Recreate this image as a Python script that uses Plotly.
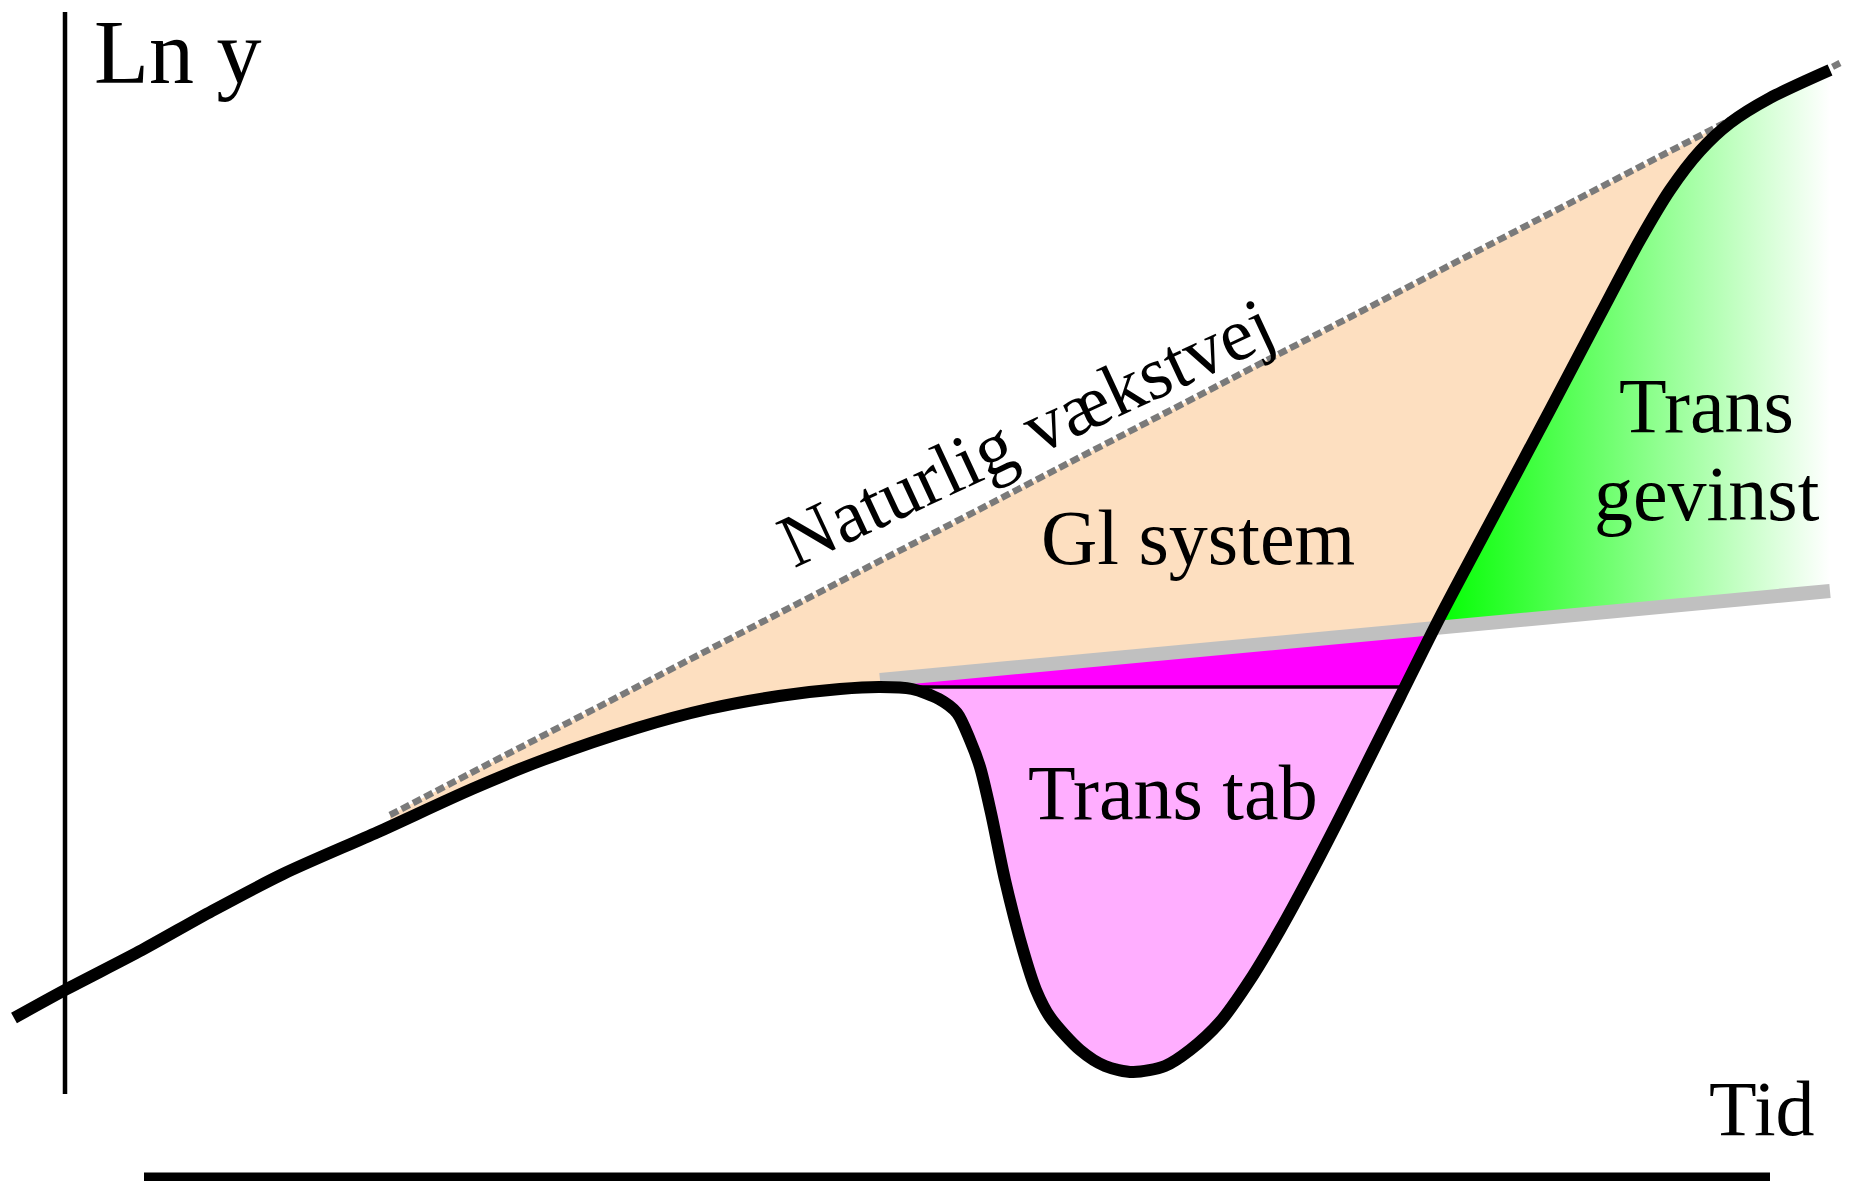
import numpy as np
import plotly.graph_objects as go

# ---- data (time on x, Ln y on y) ----
# actual growth path
tid = [14, 65, 142, 212, 283, 378, 472, 543, 637, 708, 779, 840, 880, 912, 939,
       957, 970, 980, 991, 1005, 1023, 1036, 1050, 1080, 1105, 1133, 1165, 1190,
       1220, 1250, 1280, 1310, 1340, 1370, 1400, 1440, 1500, 1550, 1600, 1640,
       1670, 1700, 1730, 1770, 1830]
ln_y = [163, 191, 231, 270, 307, 349, 392, 421, 453, 472, 485, 492, 494, 492, 482,
        468, 441, 414, 368, 301, 231, 191, 164, 131, 115, 109, 115, 131,
        159, 201, 251, 306, 364, 424, 484, 564, 677, 771, 866, 941,
        991, 1030, 1058, 1083, 1111]
# natural growth path (dashed)
tid_nat = [390, 1840]
ln_nat = [366, 1118]
# old system trend (grey)
tid_old = [880, 1830]
ln_old = [501, 590]

# ---- geometry helpers ----
x = np.array(tid, float)
y = np.array(ln_y, float)


def straight(xs, ys):
    k = (ys[1] - ys[0]) / (xs[1] - xs[0])
    return lambda q: ys[0] + (np.asarray(q, float) - xs[0]) * k


nat = straight(tid_nat, ln_nat)
old = straight(tid_old, ln_old)
i_min = int(np.argmin(y))
peak_idx = int(np.argmax(y[:i_min]))
peak = y[peak_idx]


def first_cross(d, start):
    for j in range(start + 1, len(d)):
        if d[j] >= 0 and d[j - 1] < 0:
            t = d[j - 1] / (d[j - 1] - d[j])
            return j, x[j - 1] + t * (x[j] - x[j - 1]), y[j - 1] + t * (y[j] - y[j - 1])
    return len(d) - 1, x[-1], y[-1]


jp, xp, _ = first_cross(y - peak, i_min)
jg, xg, yg = first_cross(y - old(x), i_min)
jn, xn, yn = first_cross(y - nat(x), jg)

fig = go.Figure()
common = dict(mode="lines", hoverinfo="skip", showlegend=False, line=dict(width=0))

# peach: between natural path and actual path
m = (x > tid_nat[0]) & (x < xn)
px = [tid_nat[0], xn] + list(x[m][::-1]) + [tid_nat[0]]
py = [float(nat(tid_nat[0])), yn] + list(y[m][::-1]) + [float(np.interp(tid_nat[0], x, y))]
fig.add_trace(go.Scatter(x=px, y=py, fill="toself", fillcolor="#FDDFC0", **common))

# magenta: below old system trend
m = (x > tid_old[0]) & (x < xg)
px = [tid_old[0], xg] + list(x[m][::-1]) + [tid_old[0]]
py = [float(old(tid_old[0])), yg] + list(y[m][::-1]) + [float(np.interp(tid_old[0], x, y))]
fig.add_trace(go.Scatter(x=px, y=py, fill="toself", fillcolor="#FF00FF", **common))

# pink: transition loss below old peak level
px = [x[peak_idx]] + list(x[peak_idx + 1:jp]) + [xp]
py = [peak] + list(y[peak_idx + 1:jp]) + [peak]
fig.add_trace(go.Scatter(x=px, y=py, fill="toself", fillcolor="#FFAEFF", **common))

# green: transition gain
m = x > xg
px = [xg] + list(x[m]) + [x[-1], xg]
py = [yg] + list(y[m]) + [float(old(x[-1])), yg]
fig.add_trace(go.Scatter(x=px, y=py, fill="toself",
                         fillgradient=dict(type="horizontal",
                                           colorscale=[[0, "#00FF00"], [1, "#FFFFFF"]]),
                         **common))

# old system trend line
fig.add_trace(go.Scatter(x=tid_old, y=ln_old, mode="lines", hoverinfo="skip", showlegend=False,
                         line=dict(color="#C0C0C0", width=14)))
# old peak level
fig.add_trace(go.Scatter(x=[x[peak_idx], xp], y=[peak, peak], mode="lines", hoverinfo="skip",
                         showlegend=False, line=dict(color="black", width=3.5)))
# natural growth path
fig.add_trace(go.Scatter(x=tid_nat, y=ln_nat, mode="lines", hoverinfo="skip", showlegend=False,
                         line=dict(color="#7A7A7A", width=6.5, dash="9px,4px")))
# actual path
fig.add_trace(go.Scatter(x=tid, y=ln_y, mode="lines", hoverinfo="skip", showlegend=False,
                         line=dict(color="black", width=12, shape="spline", smoothing=0.8)))

W, H = 1851, 1181
serif = "Liberation Serif, Times New Roman, serif"


def label(text, xx, yy, size, angle=0, yanchor="middle"):
    return dict(text=text, x=xx, y=yy, xref="x", yref="y", showarrow=False,
                xanchor="center", yanchor=yanchor, textangle=angle,
                font=dict(family=serif, size=size, color="black"))


fig.update_layout(
    width=W, height=H, margin=dict(l=0, r=0, t=0, b=0),
    paper_bgcolor="white", plot_bgcolor="white",
    xaxis=dict(range=[0, W], visible=False, fixedrange=True),
    yaxis=dict(range=[0, H], visible=False, fixedrange=True),
    shapes=[
        dict(type="line", xref="x", yref="y", x0=65, x1=65, y0=H - 12, y1=H - 1094,
             line=dict(color="black", width=4.5)),
        dict(type="line", xref="x", yref="y", x0=144, x1=1770, y0=4, y1=4,
             line=dict(color="black", width=9)),
    ],
    annotations=[
        label("Ln y", 177, H - 1, 90, yanchor="top"),
        label("Tid", 1762, H - 1108, 78),
        label("Gl system", 1198, H - 537, 78),
        label("Trans tab", 1173, H - 792, 78),
        label("Trans", 1706, H - 405, 78),
        label("gevinst", 1707, H - 493, 78),
        label("Naturlig vækstvej", 1025, H - 432, 75, -25),
    ],
)

fig.write_html("out.html", config={"displayModeBar": False},
               post_script="document.body.style.margin='0';document.body.style.overflow='hidden';")
